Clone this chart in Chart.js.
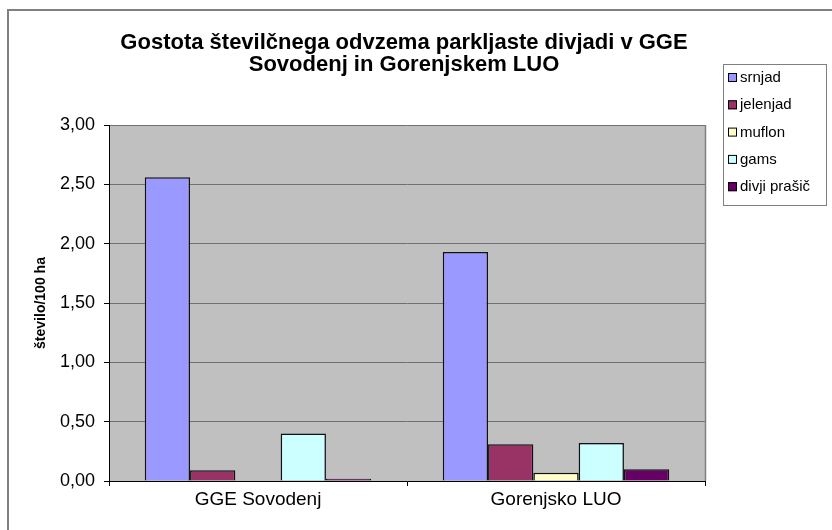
<!DOCTYPE html>
<html>
<head>
<meta charset="utf-8">
<script src="https://cdn.jsdelivr.net/npm/chart.js@4.4.0/dist/chart.umd.min.js"></script>
<style>
  html, body { margin: 0; padding: 0; background: #fff; }
  #wrap { width: 832px; height: 530px; position: relative; }
</style>
</head>
<body>
<div id="wrap"><canvas id="chart" width="832" height="530"></canvas></div>
<script>
const titleLines = ['Gostota številčnega odvzema parkljaste divjadi v GGE', 'Sovodenj in Gorenjskem LUO'];
const areas = ['GGE Sovodenj', 'Gorenjsko LUO'];
const species = ['srnjad', 'jelenjad', 'muflon', 'gams', 'divji prašič'];
const colors = ['#9999FF', '#993366', '#FFFFCC', '#CCFFFF', '#660066'];

const srnjad = [2.56, 1.93];
const jelenjad = [0.09, 0.31];
const muflon = [0.00, 0.07];
const gams = [0.40, 0.32];
const divjiPrasic = [0.02, 0.10];
const seriesValues = [srnjad, jelenjad, muflon, gams, divjiPrasic];

const FONT = 'Arial, "Liberation Sans", sans-serif';

const frame = {
    id: 'frame',
    beforeDraw(chart) {
        const { ctx, chartArea: a } = chart;
        ctx.save();
        // outer border of the picture
        ctx.strokeStyle = '#808080';
        ctx.lineWidth = 2;
        ctx.beginPath();
        ctx.moveTo(8, 540);
        ctx.lineTo(8, 10);
        ctx.lineTo(840, 10);
        ctx.stroke();
        // plot area
        ctx.fillStyle = '#C0C0C0';
        ctx.fillRect(a.left, a.top, a.right - a.left, a.bottom - a.top);
        ctx.restore();
    },
    afterDraw(chart) {
        const { ctx, chartArea: a } = chart;
        ctx.save();
        ctx.strokeStyle = '#808080';
        ctx.lineWidth = 1.5;
        ctx.beginPath();
        ctx.moveTo(a.right + 0.5, a.top);
        ctx.lineTo(a.right + 0.5, a.bottom);
        ctx.stroke();

        // title
        ctx.fillStyle = '#000';
        ctx.font = 'bold 22px ' + FONT;
        ctx.textAlign = 'center';
        ctx.textBaseline = 'middle';
        ctx.fillText(titleLines[0], 404, 43);
        ctx.fillText(titleLines[1], 404, 65);

        // legend
        ctx.lineWidth = 1;
        ctx.strokeStyle = '#808080';
        ctx.strokeRect(723.5, 64.5, 103, 141);
        ctx.font = '15px ' + FONT;
        ctx.textAlign = 'left';
        chart.data.datasets.forEach((ds, i) => {
            const y = 77 + i * 27.3;
            ctx.fillStyle = ds.backgroundColor;
            ctx.fillRect(728, y - 4, 9, 9);
            ctx.strokeStyle = '#000';
            ctx.strokeRect(728.5, y - 3.5, 8, 8);
            ctx.fillStyle = '#000';
            ctx.fillText(ds.label, 740, y + 1);
        });
        ctx.restore();
    }
};

new Chart(document.getElementById('chart'), {
    type: 'bar',
    data: {
        labels: areas,
        datasets: species.map((s, i) => ({
            label: s,
            data: seriesValues[i],
            backgroundColor: colors[i],
            borderColor: '#111',
            borderWidth: 1.5,
            borderSkipped: 'bottom',
            categoryPercentage: 0.76,
            barPercentage: 1,
        })),
    },
    options: {
        responsive: false,
        animation: false,
        devicePixelRatio: 1,
        layout: { padding: { left: 0, top: 125, right: 127, bottom: 0 } },
        plugins: {
            legend: { display: false },
            title: { display: false },
            tooltip: { enabled: false },
        },
        scales: {
            x: {
                offset: true,
                grid: { display: true, drawOnChartArea: false, color: '#000', tickLength: 5, offset: true },
                border: { color: '#000' },
                ticks: { color: '#000', font: { family: FONT, size: 19 }, padding: 2 },
                afterFit(scale) { scale.height = 49; },
            },
            y: {
                min: 0,
                max: 3,
                ticks: {
                    stepSize: 0.5,
                    color: '#000',
                    font: { family: FONT, size: 18 },
                    padding: 9,
                    callback: (v) => v.toFixed(2).replace('.', ','),
                },
                grid: { color: '#707070', tickColor: '#000', tickLength: 5 },
                border: { color: '#000' },
                title: {
                    display: true,
                    text: 'število/100 ha',
                    color: '#000',
                    font: { family: FONT, size: 14, weight: 'bold' },
                    padding: { top: 33, bottom: 0 },
                },
                afterFit(scale) { scale.width = 109; },
            },
        },
    },
    plugins: [frame],
});
</script>
</body>
</html>
